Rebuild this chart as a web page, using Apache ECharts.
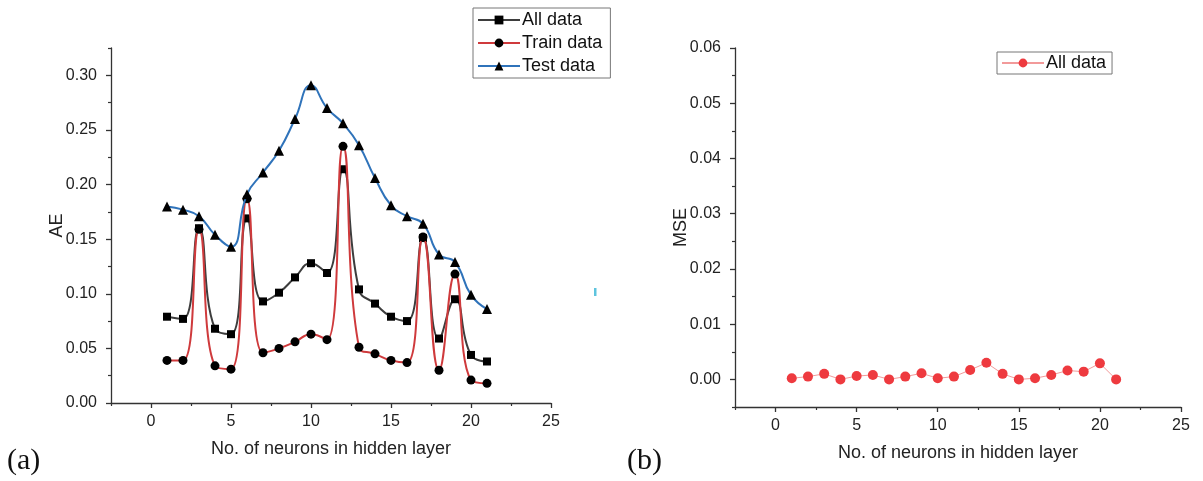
<!DOCTYPE html>
<html>
<head>
<meta charset="utf-8">
<script src="https://cdn.jsdelivr.net/npm/echarts@6/dist/echarts.min.js"></script>
<style>
  html, body { margin: 0; padding: 0; background: #fff; }
  #chart { width: 1203px; height: 481px; }
</style>
</head>
<body>
<div id="chart"></div>
<script>
// Number of neurons in the hidden layer
const neurons = [1, 2, 3, 4, 5, 6, 7, 8, 9, 10, 11, 12, 13, 14, 15, 16, 17, 18, 19, 20, 21];

// (a) absolute error
const aeAll   = [0.079, 0.077, 0.160, 0.068, 0.063, 0.169, 0.093, 0.101, 0.115, 0.128, 0.119,
                 0.214, 0.104, 0.091, 0.079, 0.075, 0.151, 0.059, 0.095, 0.044, 0.038];
const aeTrain = [0.039, 0.039, 0.159, 0.034, 0.031, 0.187, 0.046, 0.050, 0.056, 0.063, 0.058,
                 0.235, 0.051, 0.045, 0.039, 0.037, 0.152, 0.030, 0.118, 0.021, 0.018];
const aeTest  = [0.180, 0.177, 0.171, 0.154, 0.143, 0.191, 0.211, 0.231, 0.260, 0.291, 0.270,
                 0.256, 0.236, 0.206, 0.181, 0.171, 0.164, 0.136, 0.129, 0.099, 0.086];

// (b) mean squared error
const mseAll  = [0.0002, 0.0005, 0.0010, 0.0000, 0.0006, 0.0008, 0.0000, 0.0005, 0.0011, 0.0002, 0.0005,
                 0.0017, 0.0030, 0.0010, 0.0000, 0.0002, 0.0008, 0.0016, 0.0014, 0.0029, 0.0000];

// Axis ticks
const xMajor  = [0, 5, 10, 15, 20, 25];
const xMinor  = [-2.5, 2.5, 7.5, 12.5, 17.5, 22.5];
const aeMajor = [0, 0.05, 0.10, 0.15, 0.20, 0.25, 0.30];
const aeMinor = [0.025, 0.075, 0.125, 0.175, 0.225, 0.275, 0.325];
const mseMajor = [0, 0.01, 0.02, 0.03, 0.04, 0.05, 0.06];
const mseMinor = [-0.005, 0.005, 0.015, 0.025, 0.035, 0.045, 0.055];

const FONT = 'Liberation Sans, Arial, sans-serif';
const AXIS_COLOR = '#333';

const pairs = ys => neurons.map((n, i) => [n, ys[i]]);

function majorAxis(gridIndex, min, max, ticks, decimals, margin, extra) {
  return Object.assign({
    type: 'value', gridIndex, min, max,
    axisLine: { show: true, onZero: false, lineStyle: { color: AXIS_COLOR, width: 1.3 } },
    axisTick: { show: true, inside: false, length: 5, customValues: ticks,
                lineStyle: { color: AXIS_COLOR, width: 1.3 } },
    axisLabel: { show: true, customValues: ticks, color: '#222', fontSize: 16, fontFamily: FONT,
                 margin: margin,
                 formatter: v => decimals >= 0 ? v.toFixed(decimals) : String(v) },
    splitLine: { show: false },
    minorTick: { show: false },
    nameMoveOverlap: false
  }, extra || {});
}

function minorAxis(gridIndex, min, max, ticks, position) {
  return {
    type: 'value', gridIndex, min, max, position,
    axisLine: { show: false, onZero: false },
    axisTick: { show: true, inside: false, length: 3, customValues: ticks,
                lineStyle: { color: AXIS_COLOR, width: 1.2 } },
    axisLabel: { show: false },
    splitLine: { show: false }
  };
}

const nameStyle = { color: '#222', fontSize: 18, fontFamily: FONT };
const legendText = { color: '#111', fontSize: 18, fontFamily: FONT, padding: [0, 0, 0, -3] };

const chart = echarts.init(document.getElementById('chart'), null, { renderer: 'canvas' });

chart.setOption({
  backgroundColor: '#fff',
  animation: false,
  grid: [
    { left: 111, top: 48, width: 440, height: 355 },
    { left: 735, top: 48, width: 446, height: 359 }
  ],
  xAxis: [
    majorAxis(0, -2.5, 25, xMajor, -1, 11, {
      position: 'bottom', name: 'No. of neurons in hidden layer', nameLocation: 'middle',
      nameGap: 37, nameTextStyle: nameStyle }),
    minorAxis(0, -2.5, 25, xMinor, 'bottom'),
    majorAxis(1, -2.5, 25, xMajor, -1, 11, {
      position: 'bottom', name: 'No. of neurons in hidden layer', nameLocation: 'middle',
      nameGap: 37, nameTextStyle: nameStyle }),
    minorAxis(1, -2.5, 25, xMinor, 'bottom')
  ],
  yAxis: [
    majorAxis(0, 0, 0.325, aeMajor, 2, 14, {
      position: 'left', name: 'AE', nameLocation: 'middle', nameGap: 45, nameRotate: 90,
      nameTextStyle: nameStyle }),
    minorAxis(0, 0, 0.325, aeMinor, 'left'),
    majorAxis(1, -0.005, 0.06, mseMajor, 2, 14, {
      position: 'left', name: 'MSE', nameLocation: 'middle', nameGap: 45, nameRotate: 90,
      nameTextStyle: nameStyle }),
    minorAxis(1, -0.005, 0.06, mseMinor, 'left')
  ],
  legend: [
    {
      data: ['All data', 'Train data', 'Test data'],
      orient: 'vertical', left: 473, top: 8,
      itemWidth: 42, itemHeight: 11, itemGap: 5,
      padding: [3, 8, 3, 4],
      borderColor: '#777', borderWidth: 1, borderRadius: 0,
      lineStyle: { width: 2 },
      textStyle: legendText
    },
    {
      data: ['MSE all data'],
      formatter: () => 'All data',
      orient: 'vertical', left: 997, top: 52,
      itemWidth: 42, itemHeight: 11,
      padding: [2, 6, 2, 4],
      borderColor: '#777', borderWidth: 1, borderRadius: 0,
      textStyle: legendText
    }
  ],
  series: [
    {
      name: 'All data', type: 'line', xAxisIndex: 0, yAxisIndex: 0,
      data: pairs(aeAll), smooth: 0.5,
      symbol: 'rect', symbolSize: 8,
      lineStyle: { color: '#3d3d3d', width: 2 },
      itemStyle: { color: '#000' }, z: 3
    },
    {
      name: 'Train data', type: 'line', xAxisIndex: 0, yAxisIndex: 0,
      data: pairs(aeTrain), smooth: 0.5,
      symbol: 'circle', symbolSize: 9,
      lineStyle: { color: '#cf3a3c', width: 2 },
      itemStyle: { color: '#000' }, z: 4
    },
    {
      name: 'Test data', type: 'line', xAxisIndex: 0, yAxisIndex: 0,
      data: pairs(aeTest), smooth: 0.5,
      symbol: 'triangle', symbolSize: 10,
      lineStyle: { color: '#2f73ba', width: 2 },
      itemStyle: { color: '#000' }, z: 5
    },
    {
      name: 'MSE all data', type: 'line', xAxisIndex: 2, yAxisIndex: 2,
      data: pairs(mseAll),
      symbol: 'circle', symbolSize: 10,
      lineStyle: { color: '#f29a9a', width: 1 },
      itemStyle: { color: '#ee3a3f' }
    }
  ],
  graphic: [
    { type: 'text', left: 7, top: 446,
      style: { text: '(a)', fontSize: 30, fontFamily: 'Liberation Serif, Times New Roman, serif', fill: '#111' } },
    { type: 'text', left: 627, top: 446,
      style: { text: '(b)', fontSize: 30, fontFamily: 'Liberation Serif, Times New Roman, serif', fill: '#111' } },
    { type: 'rect', left: 594, top: 288,
      shape: { width: 2.5, height: 8 }, style: { fill: '#5ec4de' } }
  ]
});
</script>
</body>
</html>
